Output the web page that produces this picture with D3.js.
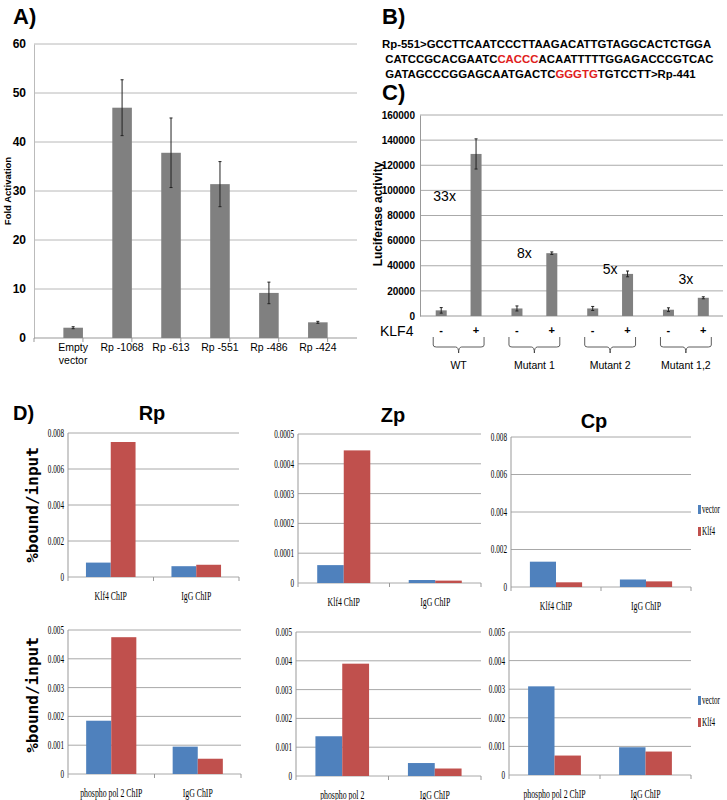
<!DOCTYPE html>
<html><head><meta charset="utf-8">
<script src="https://cdn.jsdelivr.net/npm/d3@7"></script>
<style>body{margin:0;background:#fff}svg{font-family:Arial,"Liberation Sans",sans-serif}</style>
</head><body>
<svg id="fig" width="727" height="800"></svg>
<script>
// panel A
const aCats = [["Empty", "vector"], ["Rp -1068"], ["Rp -613"], ["Rp -551"], ["Rp -486"], ["Rp -424"]];
const aVals = [2.1, 47, 37.8, 31.4, 9.2, 3.2];
const aErr = [0.2, 5.7, 7.1, 4.6, 2.2, 0.2];
const aTicks = [0, 10, 20, 30, 40, 50, 60];

// panel B
const seqLines = [
  [["Rp-551>GCCTTCAATCCCTTAAGACATTGTAGGCACTCTGGA", "#000"]],
  [[" CATCCGCACGAATC", "#000"], ["CACCC", "#e02020"], ["ACAATTTTTGGAGACCCGTCAC", "#000"]],
  [[" GATAGCCCGGAGCAATGACTC", "#000"], ["GGGTG", "#e02020"], ["TGTCCTT>Rp-441", "#000"]]
];

// panel C
const cGroups = ["WT", "Mutant 1", "Mutant 2", "Mutant 1,2"];
const cMinus = [4500, 6000, 6000, 5000];
const cPlus = [129000, 50000, 33500, 14500];
const cMinusErr = [2200, 2000, 1600, 1500];
const cPlusErr = [12000, 1000, 2300, 800];
const cFold = ["33x", "8x", "5x", "3x"];
const cTicks = [0, 20000, 40000, 60000, 80000, 100000, 120000, 140000, 160000];

// panel D
const dSeries = ["vector", "Klf4"];
const dColors = ["#4f81bd", "#c0504d"];
const rpKlfVector = [0.0008, 0.0006], rpKlfKlf4 = [0.0075, 0.00068];
const zpKlfVector = [0.00006, 0.00001], zpKlfKlf4 = [0.000445, 0.000008];
const cpKlfVector = [0.00135, 0.0004], cpKlfKlf4 = [0.00025, 0.0003];
const rpPolVector = [0.00185, 0.00095], rpPolKlf4 = [0.00475, 0.00053];
const zpPolVector = [0.00138, 0.00045], zpPolKlf4 = [0.0039, 0.00026];
const cpPolVector = [0.0031, 0.00097], cpPolKlf4 = [0.00068, 0.00082];
const ticks008 = [0, 0.002, 0.004, 0.006, 0.008];
const ticks0005 = [0, 0.0001, 0.0002, 0.0003, 0.0004, 0.0005];
const ticks005 = [0, 0.001, 0.002, 0.003, 0.004, 0.005];

const svg = d3.select("#fig");
const narrow = "Liberation Sans Narrow, Arial";
const label = (t, x, y, size) => svg.append("text").attr("x", x).attr("y", y)
  .attr("font-size", size).attr("font-weight", "bold").text(t);

// ---------- A ----------
label("A)", 13, 24, 22);
{
  const x = d3.scaleBand().domain(d3.range(aVals.length)).range([34, 357]).padding(0.6);
  const y = d3.scaleLinear().domain([0, 60]).range([338, 44]);
  const g = svg.append("g");
  g.selectAll(".grid").data(aTicks.slice(1)).join("line")
    .attr("x1", 34).attr("x2", 357).attr("y1", y).attr("y2", y).attr("stroke", "#b8b8b8");
  g.append("g").attr("transform", "translate(34,0)")
    .call(d3.axisLeft(y).tickValues(aTicks).tickSize(0).tickPadding(8))
    .call(s => s.select(".domain").attr("stroke", "#bbb"))
    .selectAll("text").attr("font-size", 12).attr("font-weight", "bold").attr("font-family", narrow);
  g.append("line").attr("x1", 34).attr("x2", 357).attr("y1", y(0)).attr("y2", y(0)).attr("stroke", "#999");
  d3.range(aVals.length + 1).forEach(i => g.append("line")
    .attr("x1", 34 + i * x.step()).attr("x2", 34 + i * x.step()).attr("y1", y(0)).attr("y2", y(0) + 4).attr("stroke", "#999"));
  g.selectAll(".bar").data(aVals).join("rect")
    .attr("x", (d, i) => x(i)).attr("width", x.bandwidth()).attr("y", y).attr("height", d => y(0) - y(d)).attr("fill", "#808080");
  aVals.forEach((d, i) => {
    const cx = x(i) + x.bandwidth() / 2;
    g.append("line").attr("x1", cx).attr("x2", cx).attr("y1", y(d + aErr[i])).attr("y2", y(d - aErr[i])).attr("stroke", "#222");
    [d + aErr[i], d - aErr[i]].forEach(v => g.append("line").attr("x1", cx - 1.5).attr("x2", cx + 1.5).attr("y1", y(v)).attr("y2", y(v)).attr("stroke", "#222"));
    aCats[i].forEach((t, k) => g.append("text").attr("x", cx).attr("y", 351 + k * 13).attr("text-anchor", "middle")
      .attr("font-size", 10.5).attr("font-family", narrow).text(t));
  });
  svg.append("text").attr("transform", "translate(11,191) rotate(-90)").attr("text-anchor", "middle")
    .attr("font-size", 9.5).attr("font-weight", "bold").text("Fold Activation");
}

// ---------- B ----------
label("B)", 382, 24, 22);
seqLines.forEach((parts, i) => {
  const t = svg.append("text").attr("x", 382).attr("y", 48 + i * 15).attr("font-size", 11.4).attr("font-weight", "bold")
    .attr("xml:space", "preserve");
  parts.forEach(p => t.append("tspan").attr("fill", p[1]).text(p[0]));
});

// ---------- C ----------
label("C)", 382, 100, 22);
{
  const x0 = d3.scaleBand().domain(cGroups).range([420, 723]);
  const y = d3.scaleLinear().domain([0, 160000]).range([316, 115]);
  const g = svg.append("g");
  g.selectAll(".grid").data(cTicks.slice(1)).join("line")
    .attr("x1", 420).attr("x2", 723).attr("y1", y).attr("y2", y).attr("stroke", "#aaa");
  g.append("g").attr("transform", "translate(420,0)")
    .call(d3.axisLeft(y).tickValues(cTicks).tickSize(0).tickPadding(5).tickFormat(d3.format("d")))
    .call(s => s.select(".domain").attr("stroke", "#999"))
    .selectAll("text").attr("font-size", 10).attr("font-weight", "bold").attr("font-family", narrow);
  g.append("line").attr("x1", 420).attr("x2", 723).attr("y1", y(0)).attr("y2", y(0)).attr("stroke", "#999");
  const bw = 11;
  const bar = (gi, v, e, off) => {
    const cx = x0(cGroups[gi]) + x0.bandwidth() * off;
    g.append("rect").attr("x", cx - bw / 2).attr("width", bw).attr("y", y(v)).attr("height", y(0) - y(v)).attr("fill", "#808080");
    g.append("line").attr("x1", cx).attr("x2", cx).attr("y1", y(v + e)).attr("y2", y(v - e)).attr("stroke", "#222");
    [v + e, v - e].forEach(w => g.append("line").attr("x1", cx - 1.5).attr("x2", cx + 1.5).attr("y1", y(w)).attr("y2", y(w)).attr("stroke", "#222"));
    return cx;
  };
  const foldDx = [-14, -10, 0, 0], foldDy = [42, 0, -5, -19];
  cGroups.forEach((grp, i) => {
    const a = bar(i, cMinus[i], cMinusErr[i], 0.28);
    const b = bar(i, cPlus[i], cPlusErr[i], 0.74);
    g.append("text").attr("x", a).attr("y", 334).attr("text-anchor", "middle").attr("font-size", 11).attr("font-weight", "bold").text("-");
    g.append("text").attr("x", b).attr("y", 334).attr("text-anchor", "middle").attr("font-size", 11).attr("font-weight", "bold").text("+");
    const l = a - 8, r = b + 8, m = (l + r) / 2;
    g.append("path").attr("fill", "none").attr("stroke", "#333").attr("stroke-width", 0.8)
      .attr("d", `M${l},337 L${l},345 Q${l},347 ${l + 3},347 L${m - 3},347 Q${m},347 ${m},353 Q${m},347 ${m + 3},347 L${r - 3},347 Q${r},347 ${r},345 L${r},337`);
    g.append("text").attr("x", m).attr("y", 369).attr("text-anchor", "middle").attr("font-size", 10.5)
      .attr("font-family", narrow).text(grp);
    g.append("text").attr("x", (a + b) / 2 + foldDx[i]).attr("y", y(cPlus[i]) + foldDy[i] + 5)
      .attr("font-size", 14).attr("font-family", narrow).attr("text-anchor", "middle").text(cFold[i]);
  });
  svg.append("text").attr("x", 380).attr("y", 336).attr("font-size", 14).attr("font-family", narrow).text("KLF4");
  svg.append("text").attr("transform", "translate(382,214) rotate(-90)").attr("text-anchor", "middle")
    .attr("font-size", 12).attr("font-weight", "bold").text("Luciferase activity");
}

// ---------- D ----------
label("D)", 13, 420, 20);
[["Rp", 152, 420], ["Zp", 393, 422], ["Cp", 594, 428]].forEach(t =>
  svg.append("text").attr("x", t[1]).attr("y", t[2]).attr("text-anchor", "middle").attr("font-size", 20).attr("font-weight", "bold").text(t[0]));

function chip(cfg) {
  const { left, right, top, bottom, max, ticks, cats, vec, klf, fmt, legend } = cfg;
  const x = d3.scaleBand().domain(cats).range([left, right]);
  const y = d3.scaleLinear().domain([0, max]).range([bottom, top]);
  const g = svg.append("g");
  g.selectAll(".grid").data(ticks).join("line")
    .attr("x1", left).attr("x2", right).attr("y1", y).attr("y2", y).attr("stroke", "#a8a8a8");
  g.append("line").attr("x1", left).attr("x2", left).attr("y1", top).attr("y2", bottom).attr("stroke", "#999");
  [0, 1, 2].forEach(i => g.append("line").attr("x1", left + i * x.step()).attr("x2", left + i * x.step())
    .attr("y1", bottom).attr("y2", bottom + 4).attr("stroke", "#999"));
  g.selectAll(".tl").data(ticks).join("text").attr("x", left - 4).attr("y", d => y(d) + 4).attr("text-anchor", "end")
    .attr("font-size", 12).attr("font-family", "Liberation Serif").attr("transform", `translate(${(left - 4) * 0.4},0) scale(0.6,1)`)
    .text(fmt);
  const bw = x.bandwidth() * 0.29;
  cats.forEach((c, i) => {
    const cx = x(c) + x.bandwidth() / 2;
    [vec[i], klf[i]].forEach((v, k) => g.append("rect").attr("x", cx - bw + k * bw).attr("width", bw)
      .attr("y", y(v)).attr("height", y(0) - y(v)).attr("fill", dColors[k]));
    g.append("text").attr("x", cx).attr("y", bottom + 23).attr("text-anchor", "middle").attr("font-size", 13)
      .attr("font-family", "Liberation Serif").attr("transform", `translate(${cx * 0.4},0) scale(0.6,1)`).text(c);
  });
  if (legend) dSeries.forEach((s, k) => {
    g.append("rect").attr("x", 698).attr("y", legend + k * 22 - 7).attr("width", 3).attr("height", 9).attr("fill", dColors[k]);
    g.append("text").attr("x", 702).attr("y", legend + k * 22 + 1).attr("font-size", 12).attr("font-family", "Liberation Serif")
      .attr("transform", `translate(${702 * 0.4},0) scale(0.6,1)`).text(s);
  });
}
const f3 = d => d === 0 ? "0" : d3.format(".3f")(d);
const f4 = d => d === 0 ? "0" : d3.format(".4f")(d);
chip({ left: 68, right: 239, top: 433, bottom: 577, max: 0.008, ticks: ticks008, cats: ["Klf4 ChIP", "IgG ChIP"], vec: rpKlfVector, klf: rpKlfKlf4, fmt: f3 });
chip({ left: 298, right: 481, top: 434, bottom: 583, max: 0.0005, ticks: ticks0005, cats: ["Klf4 ChIP", "IgG ChIP"], vec: zpKlfVector, klf: zpKlfKlf4, fmt: f4 });
chip({ left: 511, right: 691, top: 437, bottom: 587, max: 0.008, ticks: ticks008, cats: ["Klf4 ChIP", "IgG ChIP"], vec: cpKlfVector, klf: cpKlfKlf4, fmt: f3, legend: 512 });
chip({ left: 68, right: 241, top: 630, bottom: 774, max: 0.005, ticks: ticks005, cats: ["phospho pol 2 ChIP", "IgG ChIP"], vec: rpPolVector, klf: rpPolKlf4, fmt: f3 });
chip({ left: 296, right: 481, top: 632, bottom: 776, max: 0.005, ticks: ticks005, cats: ["phospho pol 2", "IgG ChIP"], vec: zpPolVector, klf: zpPolKlf4, fmt: f3 });
chip({ left: 509, right: 691, top: 632, bottom: 775, max: 0.005, ticks: ticks005, cats: ["phospho pol 2 ChIP", "IgG ChIP"], vec: cpPolVector, klf: cpPolKlf4, fmt: f3, legend: 703 });
[505, 695].forEach(cy => svg.append("text").attr("transform", `translate(38,${cy}) rotate(-90)`).attr("text-anchor", "middle")
  .attr("font-size", 16).attr("font-weight", "bold").attr("font-family", "DejaVu Sans Mono").text("%bound/input"));
</script>
</body></html>
